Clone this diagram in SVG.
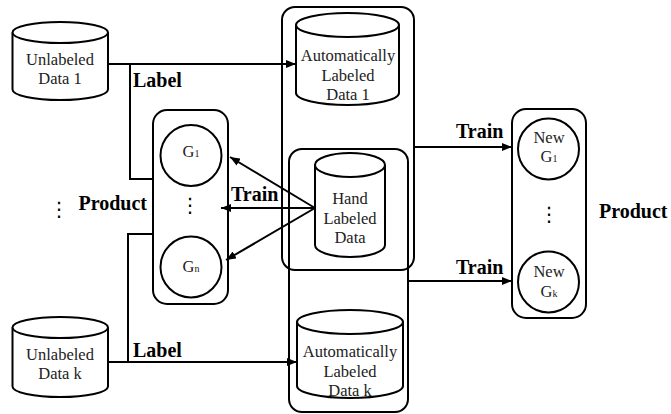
<svg xmlns="http://www.w3.org/2000/svg" width="671" height="414" viewBox="0 0 671 414" font-family="'Liberation Serif', 'Times New Roman', 'DejaVu Serif', serif">
  <style>
    .shape { fill: #fff; stroke: #000; stroke-width: 2; }
    .frame { fill: none; stroke: #000; stroke-width: 2; }
    .txt { font-family: 'Liberation Serif', 'Times New Roman', 'DejaVu Serif', serif; font-size: 16.5px; fill: #222; text-anchor: middle; }
    .sub { font-size: 10px; }
    .lbl { font-family: 'Liberation Serif', 'Times New Roman', 'DejaVu Serif', serif; font-size: 20px; font-weight: bold; fill: #000; }
    .dots { font-family: 'DejaVu Sans', sans-serif; font-size: 20px; fill: #000; text-anchor: middle; }
    .conn { fill: none; stroke: #000; stroke-width: 2; }
  </style>
  <defs>
    <marker id="arrow" viewBox="0 0 10 8" refX="10" refY="4" markerWidth="10" markerHeight="8" markerUnits="userSpaceOnUse" orient="auto">
      <path d="M0,0 L10,4 L0,8 Z" fill="#000"/>
    </marker>
  </defs>

  <rect width="671" height="414" fill="#fff"/>

  <!-- container frames -->
  <g id="auto-frame">
    <rect class="frame" x="282" y="7" width="132" height="263" rx="13"/>
  </g>
  <g id="hand-frame">
    <rect class="frame" x="289" y="149" width="119" height="263" rx="13"/>
  </g>

  <!-- connectors -->
  <g id="connectors">
    <path class="conn" d="M108,64 H296" marker-end="url(#arrow)"/>
    <path class="conn" d="M130,64 V179 H153"/>
    <path class="conn" d="M108,362 H297" marker-end="url(#arrow)"/>
    <path class="conn" d="M128,362 V234 H153"/>
    <path class="conn" d="M414,147 H512" marker-end="url(#arrow)"/>
    <path class="conn" d="M408,281 H512" marker-end="url(#arrow)"/>
    <path class="conn" d="M315,208 L230,157" marker-end="url(#arrow)"/>
    <path class="conn" d="M315,208 L221,208" marker-end="url(#arrow)"/>
    <path class="conn" d="M315,208 L226,260" marker-end="url(#arrow)"/>
  </g>

  <!-- Unlabeled Data 1 -->
  <g id="unlabeled-1">
    <path class="shape" d="M12.5,32.5 V89.5 A47.75,10.5 0 0 0 108,89.5 V32.5"/>
    <ellipse class="shape" cx="60.25" cy="32.5" rx="47.75" ry="10.5"/>
    <text class="txt" x="60" y="64.5">Unlabeled</text>
    <text class="txt" x="60" y="84">Data 1</text>
  </g>

  <!-- Unlabeled Data k -->
  <g id="unlabeled-k">
    <path class="shape" d="M12.5,327.5 V386.5 A47.75,10.5 0 0 0 108,386.5 V327.5"/>
    <ellipse class="shape" cx="60.25" cy="327.5" rx="47.75" ry="10.5"/>
    <text class="txt" x="60" y="359.5">Unlabeled</text>
    <text class="txt" x="60" y="379">Data k</text>
  </g>

  <!-- Automatically Labeled Data 1 -->
  <g id="auto-1">
    <path class="shape" d="M296,25 V93 A51.5,12 0 0 0 399,93 V25"/>
    <ellipse class="shape" cx="347.5" cy="25" rx="51.5" ry="12"/>
    <text class="txt" x="348" y="61">Automatically</text>
    <text class="txt" x="348" y="81">Labeled</text>
    <text class="txt" x="348" y="100">Data 1</text>
  </g>

  <!-- Hand Labeled Data -->
  <g id="hand-labeled">
    <path class="shape" d="M315,165 V245 A35,12 0 0 0 385,245 V165"/>
    <ellipse class="shape" cx="350" cy="165" rx="35" ry="12"/>
    <text class="txt" x="350" y="204">Hand</text>
    <text class="txt" x="350" y="224">Labeled</text>
    <text class="txt" x="350" y="243">Data</text>
  </g>

  <!-- Automatically Labeled Data k -->
  <g id="auto-k">
    <path class="shape" d="M297,322 V386 A53,12 0 0 0 403,386 V322"/>
    <ellipse class="shape" cx="350" cy="322" rx="53" ry="12"/>
    <text class="txt" x="350" y="357">Automatically</text>
    <text class="txt" x="350" y="377">Labeled</text>
    <text class="txt" x="350" y="396">Data k</text>
  </g>

  <!-- generator group G1..Gn -->
  <g id="generators">
    <rect class="frame" x="153" y="110" width="75" height="194" rx="14"/>
    <circle class="shape" cx="191" cy="155.5" r="30.5"/>
    <text class="txt" x="191" y="157">G<tspan class="sub">1</tspan></text>
    <text class="dots" x="190" y="212">⋮</text>
    <circle class="shape" cx="191" cy="267" r="30.5"/>
    <text class="txt" x="191" y="272">G<tspan class="sub">n</tspan></text>
  </g>

  <!-- new generator group -->
  <g id="new-generators">
    <rect class="frame" x="512" y="109" width="74" height="209" rx="14"/>
    <circle class="shape" cx="548.5" cy="149" r="30.5"/>
    <text class="txt" x="549" y="143">New</text>
    <text class="txt" x="549" y="162">G<tspan class="sub">1</tspan></text>
    <text class="dots" x="549" y="221">⋮</text>
    <circle class="shape" cx="548.5" cy="282" r="30.5"/>
    <text class="txt" x="549" y="277">New</text>
    <text class="txt" x="549" y="297">G<tspan class="sub">k</tspan></text>
  </g>

  <!-- edge labels -->
  <g id="labels">
    <text class="lbl" x="133" y="87">Label</text>
    <text class="lbl" x="133" y="357">Label</text>
    <text class="lbl" x="231" y="201">Train</text>
    <text class="lbl" x="456" y="138">Train</text>
    <text class="lbl" x="456" y="274">Train</text>
    <text class="lbl" x="147" y="210" text-anchor="end">Product</text>
    <text class="dots" x="59" y="216">⋮</text>
    <text class="lbl" x="599" y="218">Product</text>
  </g>
</svg>
